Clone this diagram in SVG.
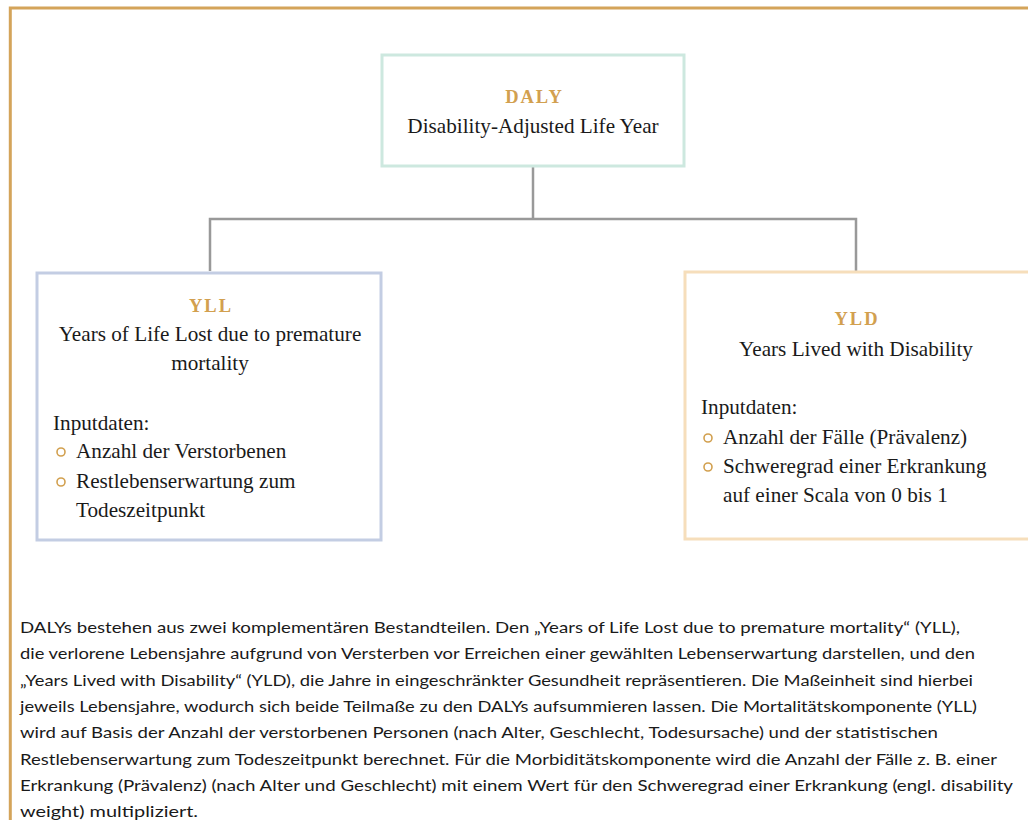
<svg xmlns="http://www.w3.org/2000/svg" width="1028" height="820" viewBox="0 0 1028 820">
<style>
.frame{stroke:#D4A45A;stroke-width:3;fill:none}
.box{fill:#fff;stroke-width:3}
.title{font-family:"Liberation Serif","Times New Roman",serif;font-weight:bold;font-size:18.5px;letter-spacing:2px;fill:#D2A04F;text-anchor:middle}
.sub{font-family:"Liberation Serif","Times New Roman",serif;font-size:21.2px;fill:#1a1a1a}
.mid{text-anchor:middle}
.bullet{fill:none;stroke:#D2A04F;stroke-width:1.6}
.conn{stroke:#999;stroke-width:2.5;fill:none}
.para{font-family:"Lato","Liberation Sans",Arial,sans-serif;font-size:16px;fill:#1a1a1a}
</style>
<rect width="1028" height="820" fill="#fff"/>
<path class="frame" d="M10.3,820 V8 H1028"/>
<g id="connectors">
<path class="conn" d="M533,167 V219"/>
<path class="conn" d="M210,271 V219 H856 V271"/>
</g>
<g id="daly">
<rect class="box" x="382" y="55" width="302" height="111" stroke="#CDE8DF"/>
<text class="title" x="534.5" y="103">DALY</text>
<text class="sub mid" x="533" y="133">Disability-Adjusted Life Year</text>
</g>
<g id="yll">
<rect class="box" x="37" y="273" width="344" height="267" stroke="#C3CDE3"/>
<text class="title" x="211" y="312">YLL</text>
<text class="sub mid" x="210" y="341">Years of Life Lost due to premature</text>
<text class="sub mid" x="210" y="370">mortality</text>
<text class="sub" x="53" y="430">Inputdaten:</text>
<circle class="bullet" cx="61" cy="452" r="4"/>
<text class="sub" x="76" y="458">Anzahl der Verstorbenen</text>
<circle class="bullet" cx="61" cy="482" r="4"/>
<text class="sub" x="76" y="488">Restlebenserwartung zum</text>
<text class="sub" x="76" y="517">Todeszeitpunkt</text>
</g>
<g id="yld">
<rect class="box" x="685" y="272" width="360" height="267" stroke="#F6DEBB"/>
<text class="title" x="857" y="325">YLD</text>
<text class="sub mid" x="856" y="356">Years Lived with Disability</text>
<text class="sub" x="701" y="414">Inputdaten:</text>
<circle class="bullet" cx="708" cy="438" r="4"/>
<text class="sub" x="723" y="444">Anzahl der Fälle (Prävalenz)</text>
<circle class="bullet" cx="708" cy="467" r="4"/>
<text class="sub" x="723" y="473">Schweregrad einer Erkrankung</text>
<text class="sub" x="723" y="502">auf einer Scala von 0 bis 1</text>
</g>
<g id="paragraph" class="para">
<text x="20" y="633" textLength="940" lengthAdjust="spacingAndGlyphs">DALYs bestehen aus zwei komplementären Bestandteilen. Den „Years of Life Lost due to premature mortality“ (YLL),</text>
<text x="20" y="659.3" textLength="955" lengthAdjust="spacingAndGlyphs">die verlorene Lebensjahre aufgrund von Versterben vor Erreichen einer gewählten Lebenserwartung darstellen, und den</text>
<text x="20" y="685.6" textLength="953" lengthAdjust="spacingAndGlyphs">„Years Lived with Disability“ (YLD), die Jahre in eingeschränkter Gesundheit repräsentieren. Die Maßeinheit sind hierbei</text>
<text x="20" y="711.9" textLength="957" lengthAdjust="spacingAndGlyphs">jeweils Lebensjahre, wodurch sich beide Teilmaße zu den DALYs aufsummieren lassen. Die Mortalitätskomponente (YLL)</text>
<text x="20" y="738.2" textLength="918" lengthAdjust="spacingAndGlyphs">wird auf Basis der Anzahl der verstorbenen Personen (nach Alter, Geschlecht, Todesursache) und der statistischen</text>
<text x="20" y="764.5" textLength="977" lengthAdjust="spacingAndGlyphs">Restlebenserwartung zum Todeszeitpunkt berechnet. Für die Morbiditätskomponente wird die Anzahl der Fälle z. B. einer</text>
<text x="20" y="790.8" textLength="993" lengthAdjust="spacingAndGlyphs">Erkrankung (Prävalenz) (nach Alter und Geschlecht) mit einem Wert für den Schweregrad einer Erkrankung (engl. disability</text>
<text x="20" y="817" textLength="178" lengthAdjust="spacingAndGlyphs">weight) multipliziert.</text>
</g>
</svg>
